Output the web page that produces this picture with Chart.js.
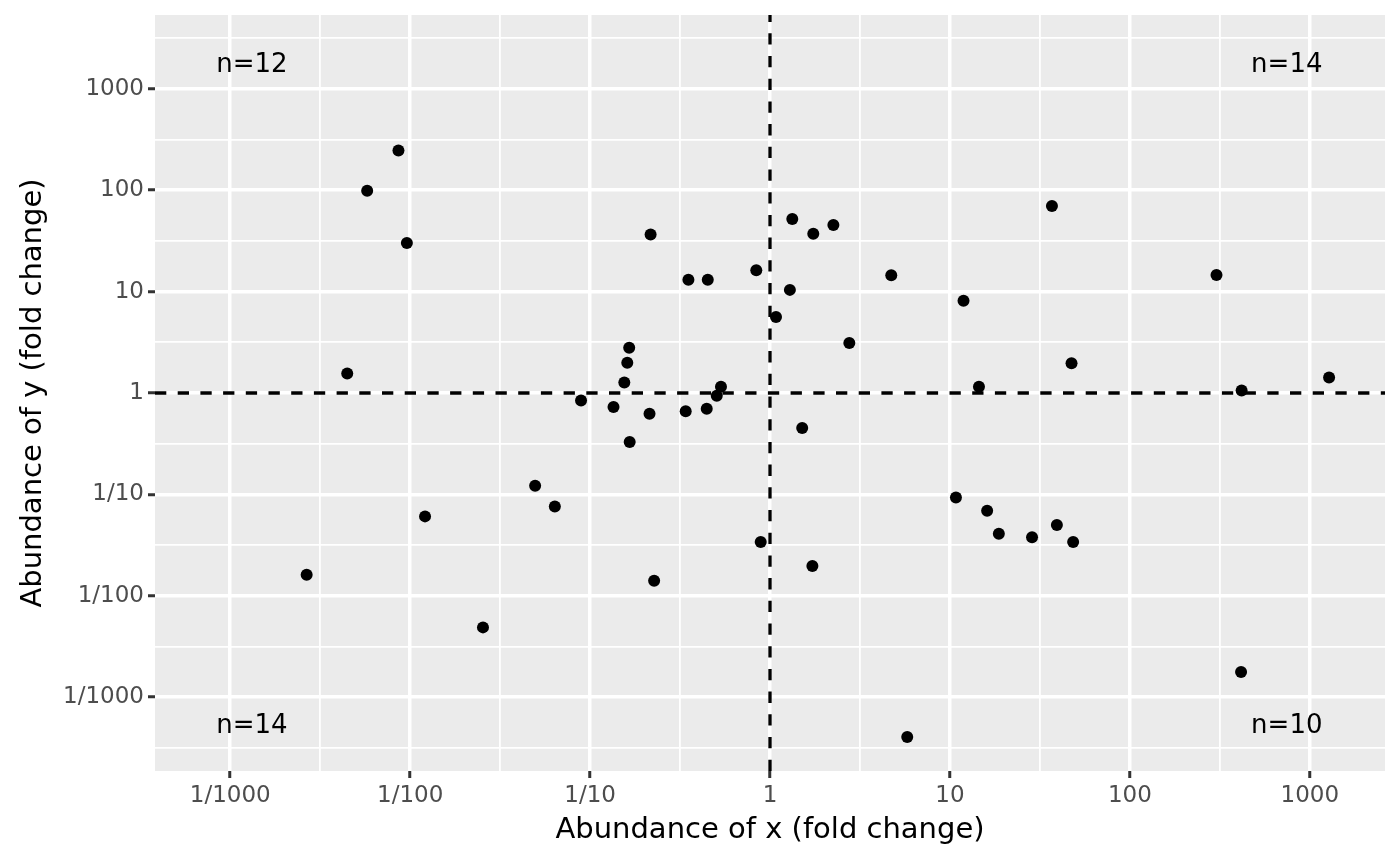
<!DOCTYPE html>
<html>
<head>
<meta charset="utf-8">
<title>Abundance of x vs y (fold change)</title>
<script src="https://cdn.jsdelivr.net/npm/chart.js@4.4.1/dist/chart.umd.min.js"></script>
<style>
  html, body { margin: 0; padding: 0; background: #fff; }
  canvas { display: block; }
</style>
</head>
<body>
<canvas id="fold-chart" width="1400" height="866"></canvas>
<script>
"use strict";

// fold changes, one entry per point
const xFold = [
  0.00266, 0.00447, 0.00577, 0.00861, 0.00959, 0.0121, 0.0254, 0.0495, 0.0637, 0.0891,
  0.135, 0.155, 0.161, 0.165, 0.166, 0.217, 0.214, 0.227, 0.340, 0.352,
  0.445, 0.451, 0.506, 0.534, 0.839, 0.888, 1.08, 1.29, 1.33, 1.51,
  1.72, 1.74, 2.25, 2.76, 4.72, 5.79, 10.8, 11.9, 14.5, 16.1,
  18.7, 28.6, 36.9, 39.3, 47.4, 48.4, 303, 415, 418, 1280,
];
const yFold = [
  0.0161, 1.56, 98.9, 247, 30.1, 0.0607, 0.00488, 0.122, 0.0761, 0.845,
  0.728, 1.27, 1.99, 2.80, 0.329, 36.6, 0.625, 0.0141, 0.659, 13.1,
  0.700, 13.1, 0.941, 1.15, 16.2, 0.0339, 5.62, 10.4, 52.0, 0.452,
  0.0197, 37.2, 45.4, 3.11, 14.5, 0.000405, 0.0934, 8.13, 1.15, 0.0691,
  0.0410, 0.0377, 69.8, 0.0499, 1.96, 0.0339, 14.6, 0.00177, 1.06, 1.42,
];

const tickValues = [0.001, 0.01, 0.1, 1, 10, 100, 1000];
const tickLabels = ["1/1000", "1/100", "1/10", "1", "10", "100", "1000"];

// point counts per quadrant: top-left, top-right, bottom-left, bottom-right
const quadrantLabels = ["n=12", "n=14", "n=14", "n=10"];
const quadrantX = [0.00132, 745, 0.00132, 745];
const quadrantY = [1690, 1690, 0.00052, 0.00052];

const xRange = [10 ** -3.418, 10 ** 3.418];
const yRange = [10 ** -3.728, 10 ** 3.728];

Chart.defaults.font.family = "'DejaVu Sans', sans-serif";

const isMajor = (v) => {
  const e = Math.log10(v);
  return Math.abs(e - Math.round(e)) < 1e-6;
};

// majors at every decade, minors half way between them
function gridValues(min, max) {
  const out = [];
  const lo = Math.floor(Math.log10(min));
  const hi = Math.ceil(Math.log10(max));
  for (let e = lo; e <= hi; e += 0.5) {
    const v = 10 ** e;
    if (v >= min && v <= max) out.push(v);
  }
  return out;
}

function tickLabel(v) {
  const i = tickValues.findIndex((t) => Math.abs(Math.log10(v / t)) < 1e-6);
  return i >= 0 ? tickLabels[i] : "";
}

function logAxis(range, title, titlePadding, fit) {
  return {
    type: "logarithmic",
    min: range[0],
    max: range[1],
    afterBuildTicks: (scale) => {
      scale.ticks = gridValues(range[0], range[1]).map((value) => ({ value }));
    },
    afterFit: (s) => {
      fit(s);
      // the panel edges are fixed by layout padding, not by label overhang
      s.paddingTop = 0;
      s.paddingBottom = 0;
      s.paddingLeft = 0;
      s.paddingRight = 0;
    },
    border: { display: false },
    grid: {
      color: "#ffffff",
      lineWidth: (ctx) => (ctx.tick && isMajor(ctx.tick.value) ? 3.5 : 1.8),
      drawTicks: true,
      tickLength: 7,
      tickWidth: 3,
      tickColor: (ctx) =>
        ctx.tick && isMajor(ctx.tick.value) ? "#333333" : "rgba(0,0,0,0)",
    },
    ticks: {
      autoSkip: false,
      maxRotation: 0,
      color: "#4d4d4d",
      font: { size: 23 },
      padding: 4,
      callback: (v) => tickLabel(v),
    },
    title: {
      display: true,
      text: title,
      color: "#000000",
      font: { size: 29 },
      padding: titlePadding,
    },
  };
}

const panelBackground = {
  id: "panelBackground",
  beforeDraw(chart) {
    const { ctx, chartArea: a } = chart;
    ctx.save();
    ctx.fillStyle = "#ebebeb";
    ctx.fillRect(a.left, a.top, a.right - a.left, a.bottom - a.top);
    ctx.restore();
  },
};

const quadrantText = {
  id: "quadrantText",
  afterDatasetsDraw(chart) {
    const { ctx, scales } = chart;
    ctx.save();
    ctx.font = "26px 'DejaVu Sans', sans-serif";
    ctx.fillStyle = "#000000";
    ctx.textAlign = "center";
    ctx.textBaseline = "middle";
    quadrantLabels.forEach((label, i) => {
      ctx.fillText(
        label,
        scales.x.getPixelForValue(quadrantX[i]),
        scales.y.getPixelForValue(quadrantY[i])
      );
    });
    ctx.restore();
  },
};

const points = xFold.map((x, i) => ({ x, y: yFold[i] }));

const refLine = (data) => ({
  data,
  showLine: true,
  borderColor: "#000000",
  borderWidth: 3.3,
  borderDash: [11.3, 11.4],
  pointRadius: 0,
  pointHoverRadius: 0,
  order: 1,
});

new Chart(document.getElementById("fold-chart"), {
  type: "scatter",
  data: {
    datasets: [
      {
        data: points,
        backgroundColor: "#000000",
        borderWidth: 0,
        pointRadius: 6,
        pointHoverRadius: 6,
        order: 0,
      },
      refLine([{ x: xRange[0], y: 1 }, { x: xRange[1], y: 1 }]),
      refLine([{ x: 1, y: yRange[0] }, { x: 1, y: yRange[1] }]),
    ],
  },
  options: {
    responsive: false,
    animation: false,
    devicePixelRatio: 1,
    events: [],
    layout: { padding: { top: 15, right: 15, left: 0, bottom: 0 } },
    plugins: {
      legend: { display: false },
      tooltip: { enabled: false },
    },
    scales: {
      x: logAxis(xRange, "Abundance of x (fold change)", { top: 0, bottom: 18 }, (s) => {
        s.height = 95;
      }),
      y: logAxis(yRange, "Abundance of y (fold change)", { top: 16, bottom: 0 }, (s) => {
        s.width = 155;
      }),
    },
  },
  plugins: [panelBackground, quadrantText],
});
</script>
</body>
</html>
